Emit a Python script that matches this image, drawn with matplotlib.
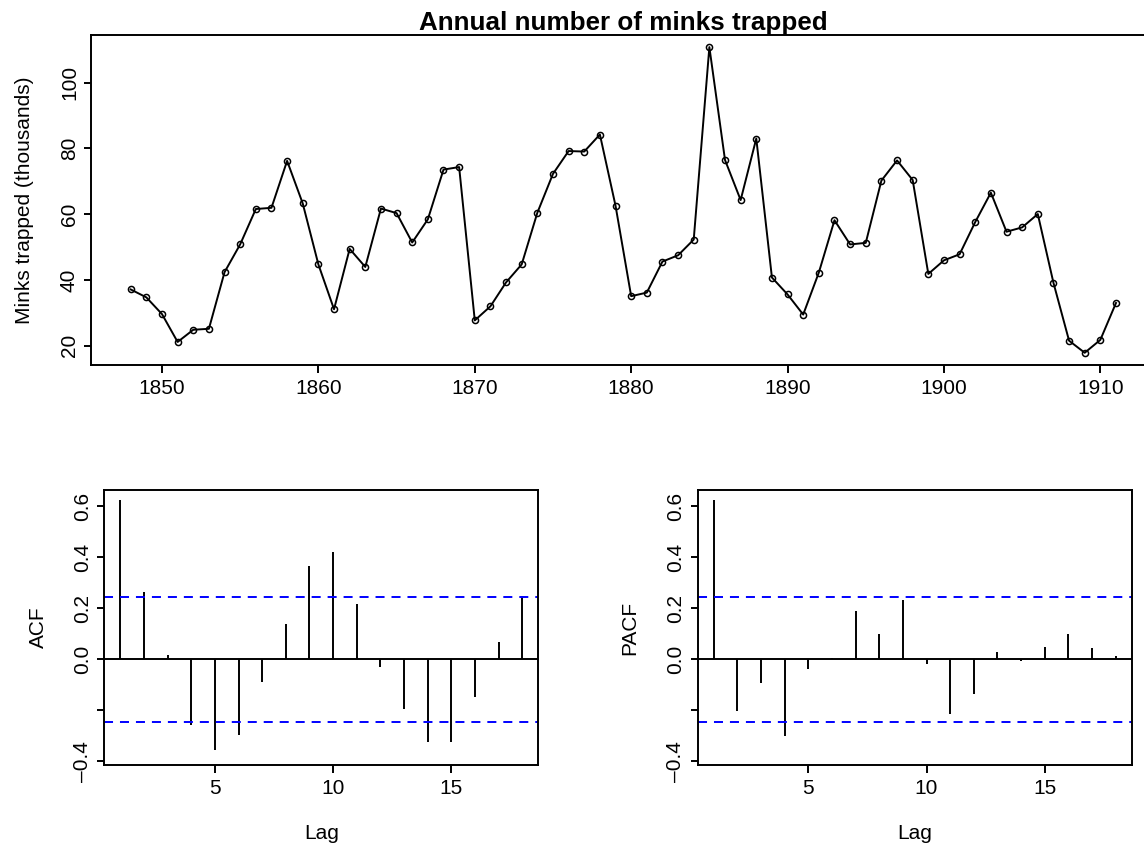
import matplotlib
matplotlib.use("Agg")
import matplotlib.pyplot as plt

plt.rcParams['font.family'] = ['Liberation Sans', 'DejaVu Sans']
plt.rcParams['lines.scale_dashes'] = False

# ---- data ----
years = list(range(1848, 1912))
minks = [37.123, 34.712, 29.619, 21.151, 24.859, 25.152, 42.375, 50.839, 61.581, 61.951,
         76.231, 63.264, 44.730, 31.094, 49.452, 43.961, 61.727, 60.334, 51.404, 58.451,
         73.575, 74.343, 27.708, 31.985, 39.266, 44.740, 60.429, 72.273, 79.214, 79.060,
         84.244, 62.590, 35.072, 36.160, 45.600, 47.508, 52.290, 110.824, 76.503, 64.303,
         83.023, 40.748, 35.596, 29.479, 42.264, 58.171, 50.815, 51.285, 70.229, 76.365,
         70.407, 41.839, 45.978, 47.813, 57.620, 66.549, 54.673, 55.996, 60.053, 39.169,
         21.534, 17.857, 21.788, 33.008]

lags = list(range(1, 19))
acf_vals = [0.624, 0.263, 0.018, -0.260, -0.358, -0.297, -0.089, 0.139, 0.365,
            0.422, 0.215, -0.030, -0.195, -0.323, -0.323, -0.150, 0.069, 0.249]
pacf_vals = [0.624, -0.203, -0.095, -0.303, -0.039, 0.004, 0.190, 0.100, 0.233,
             -0.017, -0.216, -0.137, 0.027, -0.008, 0.048, 0.098, 0.044, 0.012]
ci = 0.245

top_yticks = [20, 40, 60, 80, 100]
top_xticks = [1850, 1860, 1870, 1880, 1890, 1900, 1910]
cf_yticks = [-0.4, -0.2, 0.0, 0.2, 0.4, 0.6]
cf_yticklabels = ['\u20130.4', '', '0.0', '0.2', '0.4', '0.6']
cf_xticks = [5, 10, 15]

FS = 15
LW = 1.4

fig = plt.figure(figsize=(11.44, 8.5), dpi=100)

def style(ax):
    for s in ax.spines.values():
        s.set_linewidth(LW)
        s.set_color('black')
    ax.tick_params(axis='both', direction='out', length=5.4, width=LW,
                   labelsize=FS, colors='black')
    ax.tick_params(axis='x', pad=4.7)
    ax.tick_params(axis='y', pad=3.5, labelrotation=90)
    for lab in ax.get_yticklabels():
        lab.set_va('center')

# ---- top panel ----
ax0 = fig.add_axes([91.3/1144, 1-365/850, (1155.4-91.3)/1144, (365-34.9)/850])
ax0.plot(years, minks, color='black', lw=LW, marker='o', mfc='none', mec='black',
         ms=4.4, mew=1.1)
ax0.set_xlim(1845.48, 1913.52)
ax0.set_ylim(14.14, 114.54)
ax0.set_xticks(top_xticks)
ax0.set_yticks(top_yticks)
style(ax0)
ax0.set_ylabel('Minks trapped (thousands)', fontsize=FS)
ax0.yaxis.set_label_coords(-56.9/1064, 0.5)
ax0.set_title('Annual number of minks trapped', fontsize=18.7, fontweight='bold', pad=3.5)

def cf_panel(left_px, vals, label, lab_off):
    ax = fig.add_axes([left_px/1144, 1-765/850, 434/1144, 275/850])
    ax.vlines(lags, 0, vals, color='black', lw=LW)
    ax.axhline(0, color='black', lw=LW)
    ax.axhline(ci, color='blue', lw=LW, linestyle=(0, (6.5, 5.0)))
    ax.axhline(-ci, color='blue', lw=LW, linestyle=(0, (6.5, 5.0)))
    ax.set_xlim(0.32, 18.68)
    ax.set_ylim(-0.415, 0.664)
    ax.set_xticks(cf_xticks)
    ax.set_yticks(cf_yticks)
    ax.set_yticklabels(cf_yticklabels)
    style(ax)
    ax.set_ylabel(label, fontsize=FS)
    ax.yaxis.set_label_coords(-lab_off/434, 0.5)
    ax.set_xlabel('Lag', fontsize=FS)
    ax.xaxis.set_label_coords(0.5, -59/275)
    return ax

cf_panel(104.3, acf_vals, 'ACF', 56.6)
cf_panel(697.7, pacf_vals, 'PACF', 58.3)

fig.savefig('out.png', dpi=100)
